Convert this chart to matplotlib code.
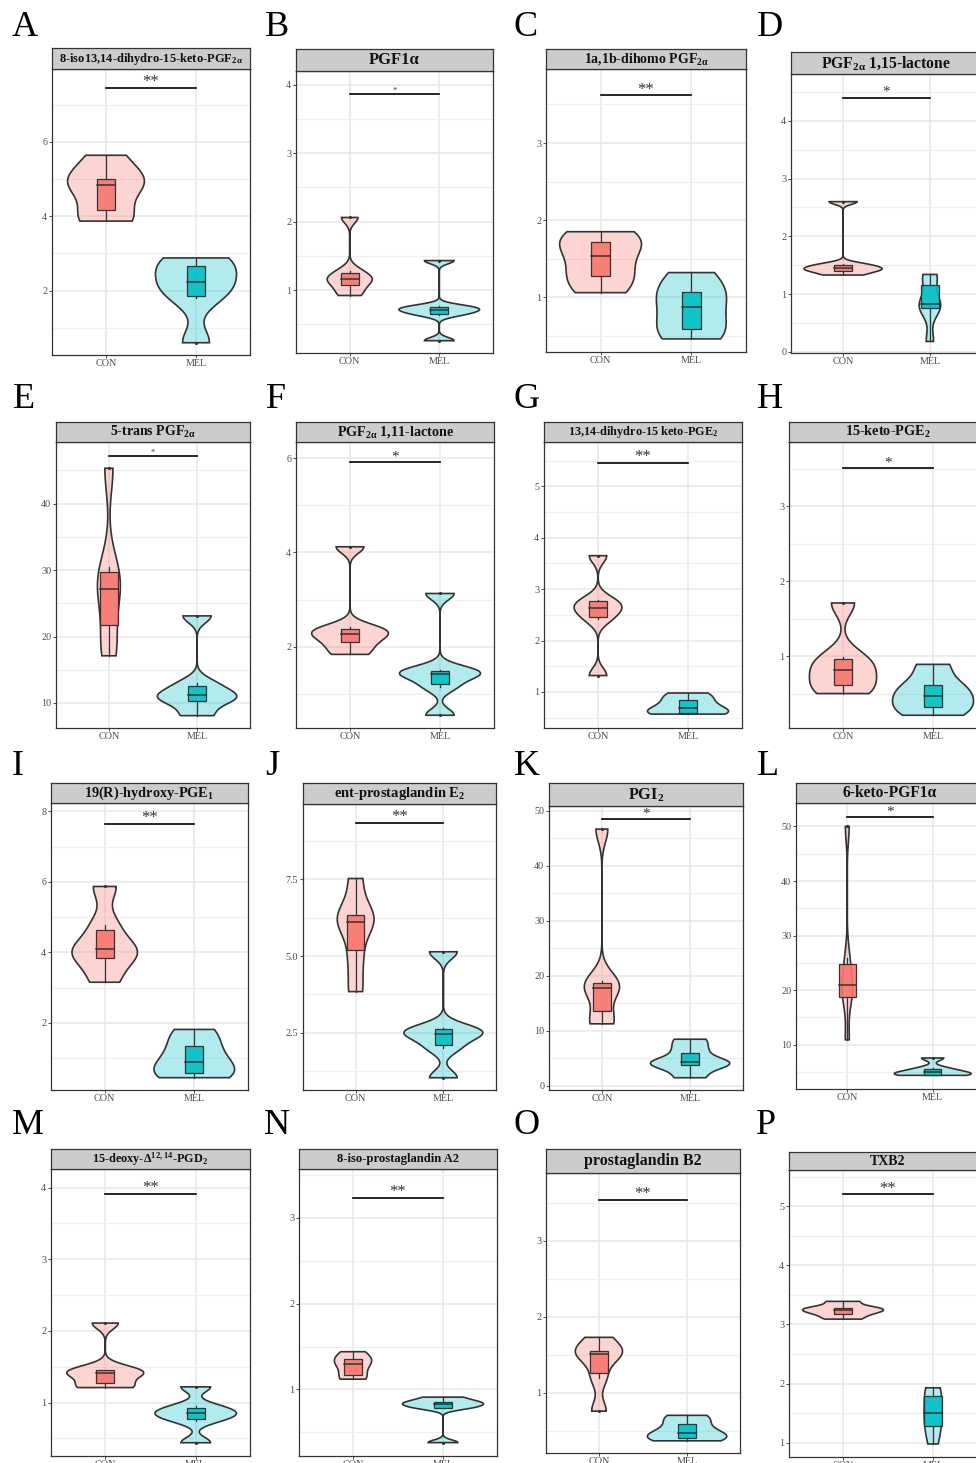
import numpy as np
import matplotlib
matplotlib.use('Agg')
import matplotlib.pyplot as plt
from matplotlib.colors import to_rgba
from matplotlib.ticker import MultipleLocator, FormatStrFormatter

plt.rcParams['font.family'] = ['Liberation Serif', 'DejaVu Serif']
plt.rcParams['mathtext.default'] = 'regular'

# ---- data ----
groups = ['CON', 'MEL']
letters = list('ABCDEFGHIJKLMNOP')
titles = [
    r'8-iso13,14-dihydro-15-keto-PGF$_{2α}$',
    'PGF1α',
    r'1a,1b-dihomo PGF$_{2α}$',
    r'PGF$_{2α}$ 1,15-lactone',
    r'5-trans PGF$_{2α}$',
    r'PGF$_{2α}$ 1,11-lactone',
    r'13,14-dihydro-15 keto-PGE$_2$',
    r'15-keto-PGE$_2$',
    r'19(R)-hydroxy-PGE$_1$',
    r'ent-prostaglandin E$_2$',
    r'PGI$_2$',
    '6-keto-PGF1α',
    r'15-deoxy-Δ$^{12,14}$-PGD$_2$',
    '8-iso-prostaglandin A2',
    'prostaglandin B2',
    'TXB2',
]
sig_labels = ['**', '*', '**', '*', '*', '*', '**', '*',
              '**', '**', '*', '*', '**', '**', '**', '**']

con_values = [
    [3.87, 3.98, 4.70, 5.00, 5.02, 5.64],
    [0.92, 1.04, 1.16, 1.16, 1.28, 2.06],
    [1.06, 1.23, 1.40, 1.66, 1.73, 1.85],
    [1.33, 1.40, 1.43, 1.47, 1.52, 2.60],
    [17.1, 20.1, 26.9, 27.3, 30.5, 45.3],
    [1.84, 2.05, 2.22, 2.32, 2.41, 4.12],
    [1.32, 2.41, 2.58, 2.68, 2.79, 3.65],
    [0.50, 0.58, 0.74, 0.88, 0.99, 1.71],
    [3.15, 3.76, 4.04, 4.14, 4.78, 5.87],
    [3.84, 4.93, 6.00, 6.24, 6.37, 7.53],
    [11.3, 12.2, 17.8, 17.8, 19.0, 46.7],
    [10.9, 18.3, 20.0, 21.8, 25.8, 50.0],
    [1.21, 1.23, 1.39, 1.43, 1.46, 2.11],
    [1.12, 1.14, 1.27, 1.33, 1.36, 1.44],
    [0.76, 1.20, 1.47, 1.55, 1.55, 1.73],
    [3.09, 3.17, 3.22, 3.26, 3.29, 3.39],
]
mel_values = [
    [0.60, 1.79, 2.10, 2.36, 2.76, 2.88],
    [0.26, 0.64, 0.69, 0.73, 0.76, 1.43],
    [0.46, 0.54, 0.75, 0.99, 1.09, 1.32],
    [0.18, 0.75, 0.79, 0.85, 1.25, 1.34],
    [8.1, 10.17, 10.9, 11.5, 12.97, 23.1],
    [0.55, 1.15, 1.38, 1.46, 1.51, 3.13],
    [0.57, 0.575, 0.64, 0.74, 0.87, 0.98],
    [0.21, 0.29, 0.42, 0.52, 0.64, 0.89],
    [0.44, 0.50, 0.75, 1.03, 1.44, 1.81],
    [1.03, 2.00, 2.40, 2.52, 2.64, 5.14],
    [1.5, 3.7, 4.1, 4.5, 6.58, 8.5],
    [4.38, 4.40, 4.80, 5.06, 5.70, 7.56],
    [0.44, 0.75, 0.83, 0.87, 0.95, 1.22],
    [0.38, 0.78, 0.81, 0.84, 0.86, 0.91],
    [0.37, 0.40, 0.44, 0.50, 0.63, 0.705],
    [0.98, 1.25, 1.40, 1.60, 1.85, 1.93],
]

# ---- layout (pixels) ----
W, H = 976, 1463
# plot left, plot right, strip top, strip bottom, plot bottom
boxes_px = [
    (52, 250, 48, 69, 355), (296, 493, 49, 71, 353), (546, 746, 49, 69, 352), (791, 982, 52, 74, 353),
    (56, 250, 422, 442, 728), (296, 494, 422, 442, 728), (544, 742, 422, 442, 728), (789, 987, 422, 442, 728),
    (51, 248, 783, 803, 1090), (303, 496, 783, 804, 1090), (549, 743, 783, 806, 1090), (796, 984, 783, 803, 1089),
    (51, 250, 1149, 1169, 1456), (299, 497, 1149, 1169, 1456), (546, 740, 1149, 1173, 1453), (789, 987, 1152, 1170, 1457),
]
letter_px = [(25, 27), (277, 27), (526, 27), (770, 27),
             (24, 400), (276, 400), (527, 400), (770, 400),
             (18, 766), (272, 766), (527, 766), (768, 766),
             (28, 1125), (277, 1125), (527, 1125), (766, 1125)]
ylims = [(0.27, 7.96), (0.08, 4.2), (0.29, 3.96), (-0.02, 4.81),
         (6.24, 49.25), (0.28, 6.34), (0.30, 5.86), (0.04, 3.86),
         (0.09, 8.24), (0.63, 9.96), (-0.73, 50.9), (1.88, 54.3),
         (0.255, 4.26), (0.224, 3.57), (0.21, 3.89), (0.76, 5.61)]
ysteps = [2, 1, 1, 1, 10, 2, 1, 1, 2, 2.5, 10, 10, 1, 1, 1, 1]
sig_y = [7.46, 3.86, 3.62, 4.40, 47.1, 5.92, 5.45, 3.51,
         7.65, 9.35, 48.5, 51.7, 3.91, 3.23, 3.54, 5.2]
sig_size = [12, 6, 12, 11, 6, 11, 12, 11, 12, 12, 11, 11, 12, 12, 12, 12]
title_sizes = [9.0, 12, 10, 11.3, 10, 10.2, 8.8, 10.3, 10.3, 10.5, 11.7, 11.2, 8.8, 9.1, 11.5, 10]

colors = ['#F8766D', '#00BFC4']
edge = '#333333'


def nrd0(x):
    sd = np.std(x, ddof=1)
    q1, q3 = np.percentile(x, [25, 75])
    lo = min(sd, (q3 - q1) / 1.34)
    if lo <= 0:
        lo = sd
    return 0.9 * lo * len(x) ** -0.2


def density(x):
    x = np.asarray(x, float)
    bw = nrd0(x)
    grid = np.linspace(x.min(), x.max(), 512)
    d = np.exp(-0.5 * ((grid[:, None] - x[None, :]) / bw) ** 2).sum(1)
    d /= len(x) * bw * np.sqrt(2 * np.pi)
    return grid, d


def box_stats(x):
    x = np.sort(np.asarray(x, float))
    q1, med, q3 = np.percentile(x, [25, 50, 75])
    iqr = q3 - q1
    inside = x[(x >= q1 - 1.5 * iqr) & (x <= q3 + 1.5 * iqr)]
    outl = x[(x < q1 - 1.5 * iqr) | (x > q3 + 1.5 * iqr)]
    return q1, med, q3, inside.min(), inside.max(), outl


fig = plt.figure(figsize=(W / 100, H / 100), dpi=100)

for i in range(16):
    l, r, st, sb, b = boxes_px[i]
    ax = fig.add_axes([l / W, 1 - b / H, (r - l) / W, (b - sb) / H])
    sax = fig.add_axes([l / W, 1 - sb / H, (r - l) / W, (sb - st) / H])

    data = [con_values[i], mel_values[i]]
    dens = [density(d) for d in data]
    dmax = max(d[1].max() for d in dens)
    for k, (grid, d) in enumerate(dens):
        pos = k + 1
        w = 0.45 * d / dmax
        xs = np.concatenate([pos - w, (pos + w)[::-1]])
        ys = np.concatenate([grid, grid[::-1]])
        ax.fill(xs, ys, facecolor=to_rgba(colors[k], 0.3), edgecolor=edge, lw=1.2, zorder=3)
        q1, med, q3, wlo, whi, outl = box_stats(data[k])
        ax.plot([pos, pos], [wlo, q1], color=edge, lw=0.9, zorder=4)
        ax.plot([pos, pos], [q3, whi], color=edge, lw=0.9, zorder=4)
        ax.add_patch(plt.Rectangle((pos - 0.1, q1), 0.2, q3 - q1, facecolor=to_rgba(colors[k], 0.9),
                                   edgecolor=edge, lw=0.9, zorder=5))
        ax.plot([pos - 0.1, pos + 0.1], [med, med], color=edge, lw=1.1, zorder=6)
        ax.scatter([pos] * len(outl), outl, s=1.5, color=edge, zorder=6)

    # significance bar
    ax.plot([1, 2], [sig_y[i], sig_y[i]], color='black', lw=1.2, zorder=6)
    ax.annotate(sig_labels[i], (1.5, sig_y[i]), xytext=(0, 1.2), textcoords='offset points',
                ha='center', va='baseline', fontsize=sig_size[i], color='#333333')

    ax.set_xlim(0.4, 2.6)
    ax.set_ylim(*ylims[i])
    ax.set_xticks([1, 2])
    ax.set_xticklabels(groups)
    ax.yaxis.set_major_locator(MultipleLocator(ysteps[i]))
    ax.yaxis.set_minor_locator(MultipleLocator(ysteps[i] / 2))
    if ysteps[i] == 2.5:
        ax.yaxis.set_major_formatter(FormatStrFormatter('%.1f'))
    else:
        ax.yaxis.set_major_formatter(FormatStrFormatter('%g'))
    ax.grid(True, which='major', color='#E8E8E8', lw=1.1, zorder=0)
    ax.grid(True, which='minor', axis='y', color='#EFEFEF', lw=0.8, zorder=0)
    ax.set_axisbelow(True)
    ax.tick_params(which='major', length=2.5, width=0.6, color=edge, labelsize=7.3,
                   labelcolor='#4D4D4D', pad=1)
    ax.tick_params(axis='x', pad=0.5)
    ax.tick_params(which='minor', length=0)
    for s in ax.spines.values():
        s.set_color(edge)
        s.set_linewidth(0.9)

    sax.set_facecolor('#CCCCCC')
    sax.set_xticks([])
    sax.set_yticks([])
    for s in sax.spines.values():
        s.set_color(edge)
        s.set_linewidth(0.9)
    sax.text(0.5, 0.48, titles[i], transform=sax.transAxes, ha='center', va='center',
             fontsize=title_sizes[i], fontweight='bold', color='#111111')

    lx, ly = letter_px[i]
    fig.text(lx / W, 1 - ly / H, letters[i], fontsize=26, ha='center', va='center')

fig.savefig('out.png', dpi=100)
